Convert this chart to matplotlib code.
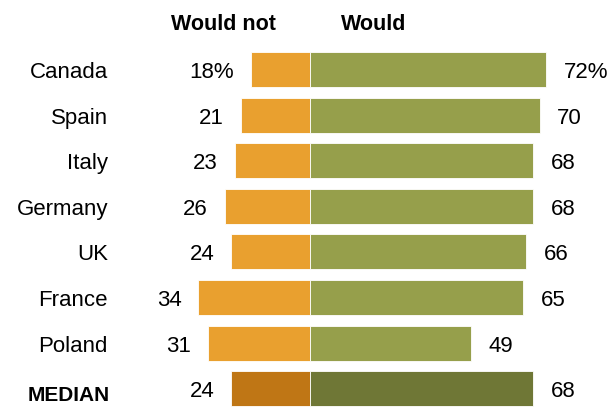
import matplotlib.pyplot as plt

# Data
countries = ["Canada", "Spain", "Italy", "Germany", "UK", "France", "Poland", "MEDIAN"]
would_not = [18, 21, 23, 26, 24, 34, 31, 24]
would = [72, 70, 68, 68, 66, 65, 49, 68]

orange = "#E9A02F"
green = "#969F4B"
orange_dark = "#BF7615"
green_dark = "#6F7736"

plt.rcParams['font.family'] = ['Liberation Sans', 'DejaVu Sans']

fig = plt.figure(figsize=(6.11, 4.07), dpi=100)
ax = fig.add_axes([0, 0, 1, 1])

scale = 3.28  # px per unit
row = 45.6    # px per row
ax.set_xlim(-310 / scale, 301 / scale)
ax.set_ylim(7.40, -1.524)
ax.axis("off")

base = 8.5 / row  # baseline offset below row centre

for i, (c, n, w) in enumerate(zip(countries, would_not, would)):
    median = c == "MEDIAN"
    co = orange_dark if median else orange
    cg = green_dark if median else green
    ax.barh(i, -n, height=0.77, color=co, edgecolor="white", linewidth=0.6)
    ax.barh(i, w, height=0.77, color=cg, edgecolor="white", linewidth=0.6)
    lt = f"{n}%" if i == 0 else str(n)
    rt = f"{w}%" if i == 0 else str(w)
    ax.text(-n - 5.2, i + base, lt, ha="right", va="baseline", fontsize=16)
    ax.text(w + 5.3, i + base, rt, ha="left", va="baseline", fontsize=16)
    if median:
        ax.text(-61.2, i + 12.5 / row, c, ha="right", va="baseline",
                fontsize=15, fontweight="bold")
    else:
        ax.text(-61.6, i + base, c, ha="right", va="baseline", fontsize=16)

ax.text(-26.5, -1.524 + 30 / row, "Would not", ha="center", va="baseline",
        fontsize=15.5, fontweight="bold")
ax.text(19.5, -1.524 + 30 / row, "Would", ha="center", va="baseline",
        fontsize=15.5, fontweight="bold")

fig.savefig("out.png", dpi=100)
